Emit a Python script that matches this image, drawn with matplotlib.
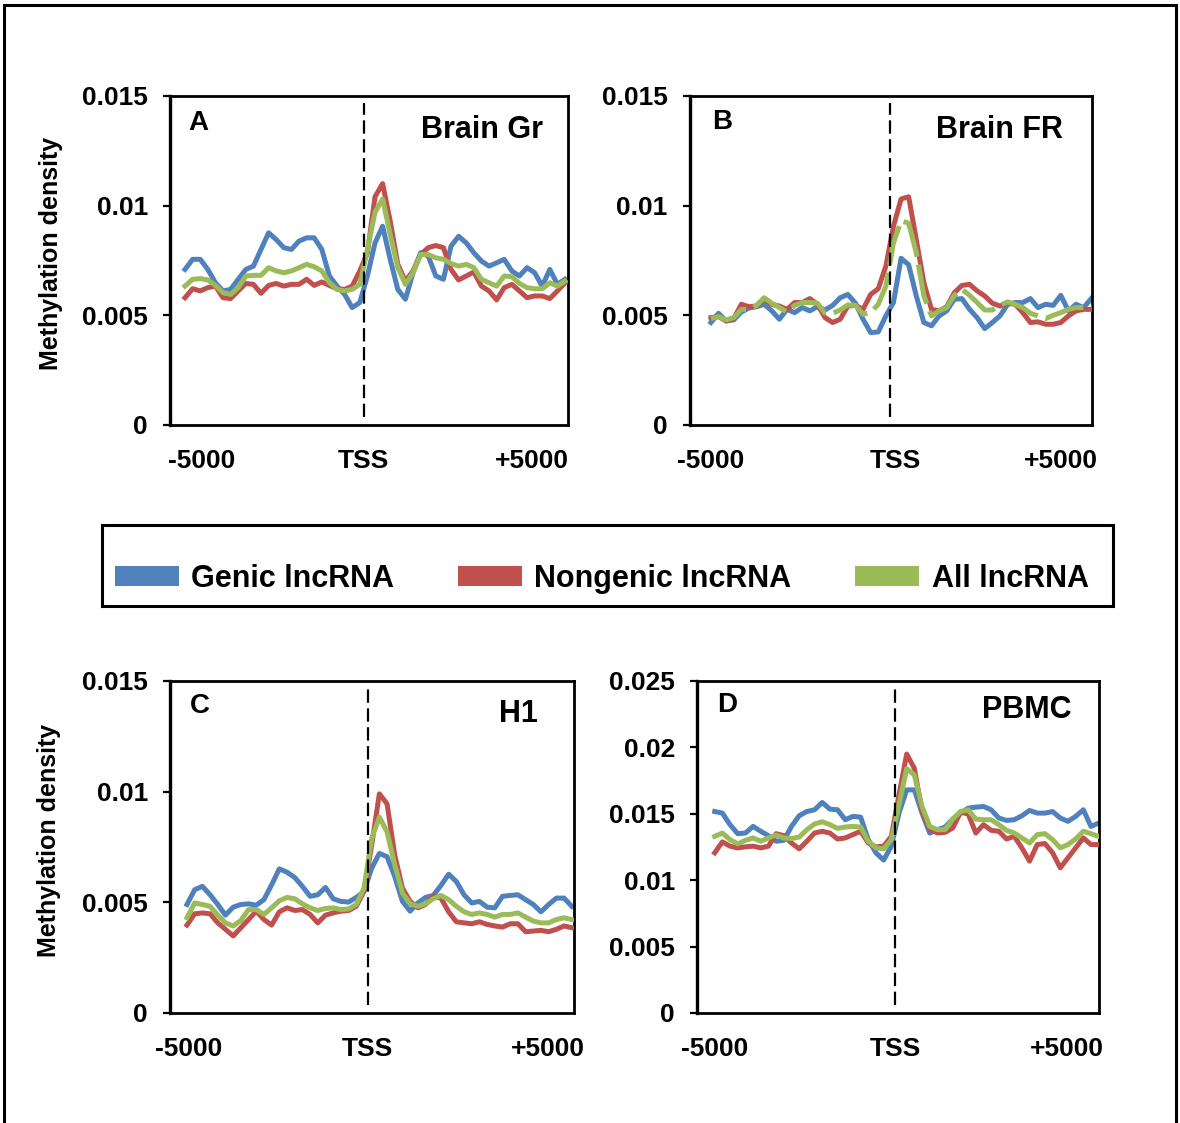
import numpy as np
import matplotlib
matplotlib.use("Agg")
import matplotlib.pyplot as plt
from matplotlib.patches import Patch, Rectangle
from matplotlib.ticker import FuncFormatter

plt.rcParams['font.family'] = ['Liberation Sans', 'DejaVu Sans']
plt.rcParams['font.weight'] = 'bold'
plt.rcParams['axes.labelweight'] = 'bold'

# ---- data (methylation density per bin, 51 bins across -5000..TSS..+5000) ----
series_names = ["Genic lncRNA", "Nongenic lncRNA", "All lncRNA"]
colors = ["#4F81BD", "#C0504D", "#9BBB59"]
x_labels = ["-5000", "TSS", "+5000"]
tss_bin = 23.5

brain_gr_genic = [0.00709, 0.00755, 0.00755, 0.00709, 0.00648, 0.00611, 0.00618, 0.00664, 0.00709, 0.00724,
                  0.0080, 0.00876, 0.00845, 0.00808, 0.0080, 0.00838, 0.00853, 0.00853, 0.0080, 0.00679,
                  0.00633, 0.00595, 0.00535, 0.00558, 0.00679, 0.0083, 0.00906, 0.00755, 0.00618, 0.00573,
                  0.00694, 0.00785, 0.0077, 0.00679, 0.00664, 0.00815, 0.0086, 0.0083, 0.00785, 0.00747,
                  0.00724, 0.00739, 0.00755, 0.00702, 0.00679, 0.00717, 0.00694, 0.00633, 0.00709, 0.00641,
                  0.00664]
brain_gr_nongenic = [0.0058, 0.00621, 0.00611, 0.00626, 0.00633, 0.0058, 0.00576, 0.00611, 0.00645, 0.00641,
                     0.0060, 0.00636, 0.00645, 0.00633, 0.00641, 0.00641, 0.00664, 0.00636, 0.00652, 0.00636,
                     0.00621, 0.00618, 0.00633, 0.00702, 0.00785, 0.0104, 0.0110, 0.00929, 0.00732, 0.00656,
                     0.00702, 0.00777, 0.00808, 0.00818, 0.00808, 0.00709, 0.00661, 0.00679, 0.00697, 0.00633,
                     0.00611, 0.0057, 0.00626, 0.00641, 0.00611, 0.0058, 0.00588, 0.00588, 0.00576, 0.00611,
                     0.00648]
brain_gr_all = [0.00633, 0.00664, 0.00667, 0.00661, 0.00636, 0.00603, 0.00595, 0.00626, 0.00679, 0.00682,
                0.00682, 0.00717, 0.00702, 0.00694, 0.00702, 0.00717, 0.00732, 0.00721, 0.00702, 0.00648,
                0.00618, 0.00611, 0.00618, 0.00641, 0.0080, 0.0097, 0.0103, 0.00868, 0.00717, 0.00641,
                0.00694, 0.00777, 0.00777, 0.00762, 0.00755, 0.00736, 0.00724, 0.00732, 0.00717, 0.00664,
                0.00648, 0.00633, 0.00679, 0.00676, 0.00645, 0.00626, 0.00621, 0.00621, 0.00648, 0.00633,
                0.00656]

brain_fr_genic = [0.00467, 0.00509, 0.00474, 0.00479, 0.00515, 0.00533, 0.00539, 0.0055, 0.0052, 0.00482,
                  0.00527, 0.00512, 0.00535, 0.0052, 0.00539, 0.00524, 0.00545, 0.0058, 0.00595, 0.00555,
                  0.00482, 0.00421, 0.00424, 0.00497, 0.00558, 0.0076, 0.0073, 0.00588, 0.00467, 0.00452,
                  0.00497, 0.0052, 0.00573, 0.00576, 0.00527, 0.00489, 0.00439, 0.00467, 0.00497, 0.0055,
                  0.00558, 0.00558, 0.00576, 0.00535, 0.0055, 0.00545, 0.00591, 0.0052, 0.0055, 0.00535,
                  0.00576]
brain_fr_nongenic = [0.00489, 0.00494, 0.00474, 0.00485, 0.0055, 0.00539, 0.00542, 0.00573, 0.0055, 0.00542,
                     0.00527, 0.00558, 0.00558, 0.00576, 0.0055, 0.00489, 0.00467, 0.00482, 0.00542, 0.00545,
                     0.00527, 0.00595, 0.00621, 0.00724, 0.00906, 0.0103, 0.0104, 0.00845, 0.00648, 0.00527,
                     0.0052, 0.00539, 0.00603, 0.00636, 0.00641, 0.00611, 0.00588, 0.00555, 0.00542, 0.00555,
                     0.0055, 0.00512, 0.00467, 0.0047, 0.00459, 0.00459, 0.00467, 0.00497, 0.0052, 0.00527,
                     0.00527]
brain_fr_all = [0.00485, 0.00494, 0.00479, 0.00489, 0.00527, 0.00527, 0.00545, 0.0058, 0.00555, 0.00535,
                0.00515, 0.00545, 0.00558, 0.00558, 0.00555, 0.00509, 0.00509, 0.00524, 0.00547, 0.00545,
                0.00505, 0.00512, 0.0055, 0.00633, 0.0083, 0.0093, 0.0092, 0.00785, 0.00588, 0.00497,
                0.0052, 0.00535, 0.00591, 0.00618, 0.00591, 0.00558, 0.00524, 0.00524, 0.00545, 0.00561,
                0.0055, 0.00535, 0.00509, 0.00497, 0.00485, 0.005, 0.00512, 0.00527, 0.00535, 0.00535,
                0.0055]

h1_genic = [0.0049, 0.00557, 0.00572, 0.00534, 0.0049, 0.00442, 0.00478, 0.0049, 0.00493, 0.00487,
            0.00512, 0.00579, 0.00651, 0.00636, 0.00612, 0.00572, 0.00527, 0.00534, 0.00567, 0.00516,
            0.00504, 0.00501, 0.00522, 0.00549, 0.00654, 0.00721, 0.00706, 0.00616, 0.00504, 0.0046,
            0.00497, 0.00522, 0.00531, 0.00576, 0.00627, 0.00594, 0.00534, 0.00497, 0.00504, 0.00478,
            0.00475, 0.00527, 0.00531, 0.00534, 0.00512, 0.0049, 0.00457, 0.0049, 0.00519, 0.00519,
            0.00482]
h1_nongenic = [0.00397, 0.00448, 0.00452, 0.00448, 0.00407, 0.00378, 0.00348, 0.00385, 0.00422, 0.0046,
               0.00422, 0.00397, 0.00457, 0.00475, 0.00463, 0.00467, 0.00445, 0.00407, 0.00442, 0.00452,
               0.0046, 0.00463, 0.00482, 0.00549, 0.00758, 0.0099, 0.00945, 0.00713, 0.00564, 0.00504,
               0.00475, 0.0049, 0.00527, 0.00519, 0.00457, 0.00412, 0.00407, 0.00403, 0.00412, 0.004,
               0.00393, 0.00388, 0.00403, 0.00403, 0.00367, 0.0037, 0.00373, 0.00367, 0.00378, 0.00393,
               0.00385]
h1_all = [0.0043, 0.00497, 0.0049, 0.00482, 0.00442, 0.00407, 0.00393, 0.00418, 0.00467, 0.00467,
          0.00445, 0.00475, 0.00507, 0.00522, 0.00516, 0.00493, 0.00475, 0.00463, 0.00472, 0.00475,
          0.00467, 0.0047, 0.0049, 0.00564, 0.00788, 0.00885, 0.00818, 0.00669, 0.00542, 0.00493,
          0.00482, 0.00493, 0.00516, 0.00531, 0.00512, 0.00482, 0.00457, 0.00445, 0.00452, 0.00445,
          0.00433, 0.00445, 0.00445, 0.00452, 0.00433, 0.00415, 0.00407, 0.00407, 0.00422, 0.0043,
          0.00422]

pbmc_genic = [0.01517, 0.01505, 0.01418, 0.0135, 0.01355, 0.01405, 0.01368, 0.01335, 0.01293, 0.0130,
              0.01405, 0.01485, 0.01517, 0.0153, 0.01585, 0.01535, 0.0153, 0.01455, 0.0148, 0.01475,
              0.01305, 0.01206, 0.01151, 0.01256, 0.01505, 0.0168, 0.0168, 0.01505, 0.01355, 0.0138,
              0.014, 0.0146, 0.01505, 0.01542, 0.0155, 0.01555, 0.0153, 0.01468, 0.0145, 0.01455,
              0.01485, 0.01525, 0.01505, 0.01505, 0.01517, 0.01468, 0.01443, 0.0148, 0.0153, 0.01405,
              0.0143]
pbmc_nongenic = [0.01206, 0.01288, 0.01256, 0.01243, 0.01251, 0.01256, 0.01243, 0.01256, 0.0135, 0.01335,
                 0.0128, 0.01236, 0.01293, 0.01355, 0.01368, 0.01355, 0.0131, 0.01318, 0.01343, 0.01368,
                 0.0128, 0.01251, 0.01256, 0.0133, 0.01642, 0.0195, 0.01842, 0.01517, 0.01385, 0.01355,
                 0.0136, 0.01393, 0.0151, 0.015, 0.01355, 0.01418, 0.01375, 0.01368, 0.0131, 0.0133,
                 0.01243, 0.01143, 0.01268, 0.01276, 0.01206, 0.01093, 0.01168, 0.01243, 0.01318, 0.01268,
                 0.01268]
pbmc_all = [0.0133, 0.01355, 0.01305, 0.01273, 0.013, 0.01318, 0.01293, 0.01318, 0.0134, 0.01318,
            0.01313, 0.01325, 0.0138, 0.01423, 0.0144, 0.01418, 0.0139, 0.014, 0.01405, 0.014,
            0.01293, 0.01243, 0.01236, 0.01305, 0.01567, 0.0184, 0.01792, 0.01555, 0.01405, 0.0138,
            0.0138, 0.0146, 0.01517, 0.0153, 0.0146, 0.01455, 0.01455, 0.01418, 0.01375, 0.01355,
            0.01318, 0.0128, 0.01343, 0.0135, 0.01305, 0.01243, 0.01268, 0.0131, 0.01368, 0.0135,
            0.0133]

# ---- layout ----
panels = [
    dict(letter="A", title="Brain Gr", data=[brain_gr_genic, brain_gr_nongenic, brain_gr_all],
         rect=[0.1441, 0.6216, 0.3373, 0.2930], xlim=(-1.97, 50.4), ticks=[2.25, 23.5, 45.6],
         ymax=0.015, ylabel=True, letter_xy=(0.045, 0.918), title_xy=(0.937, 0.895), green_dash=False),
    dict(letter="B", title="Brain FR", data=[brain_fr_genic, brain_fr_nongenic, brain_fr_all],
         rect=[0.5847, 0.6216, 0.3407, 0.2930], xlim=(-2.76, 50.1), ticks=[0.0, 24.3, 46.0],
         ymax=0.015, ylabel=False, letter_xy=(0.055, 0.922), title_xy=(0.928, 0.895), green_dash=True),
    dict(letter="C", title="H1", data=[h1_genic, h1_nongenic, h1_all],
         rect=[0.1441, 0.0980, 0.3424, 0.2956], xlim=(-2.2, 50.3), ticks=[0.25, 23.5, 46.9],
         ymax=0.015, ylabel=True, letter_xy=(0.05, 0.925), title_xy=(0.911, 0.902), green_dash=False),
    dict(letter="D", title="PBMC", data=[pbmc_genic, pbmc_nongenic, pbmc_all],
         rect=[0.5907, 0.0980, 0.3407, 0.2956], xlim=(-2.3, 50.05), ticks=[0.0, 23.5, 45.9],
         ymax=0.025, ylabel=False, letter_xy=(0.05, 0.927), title_xy=(0.933, 0.914), green_dash=False),
]

fig = plt.figure(figsize=(11.8, 11.23), dpi=100)

for p in panels:
    ax = fig.add_axes(p["rect"])
    x = np.arange(len(p["data"][0]))
    for i, (vals, c) in enumerate(zip(p["data"], colors)):
        kw = {}
        if i == 2 and p["green_dash"]:
            kw["dashes"] = (8, 1.6)
        ax.plot(x, vals, color=c, lw=3.6, solid_joinstyle='round', zorder=2 + i, **kw)
    ax.axvline(tss_bin, ymin=0.024, ymax=0.979, color='black', lw=1.6, dashes=(6, 2.5), zorder=10)

    ax.set_xlim(*p["xlim"])
    ax.set_ylim(0, p["ymax"])
    ax.set_yticks(np.arange(0, p["ymax"] + 1e-9, 0.005))
    ax.yaxis.set_major_formatter(FuncFormatter(lambda v, pos: "{:g}".format(round(v, 4))))
    ax.set_xticks(p["ticks"])
    ax.set_xticklabels(x_labels)
    ax.tick_params(axis='x', length=0, pad=17, labelsize=19)
    ax.tick_params(axis='y', length=5, width=1.6, pad=11, labelsize=19, direction='out')
    for s in ax.spines.values():
        s.set_linewidth(2.0)
    ax.spines['left'].set_linewidth(2.4)

    ax.text(p["letter_xy"][0], p["letter_xy"][1], p["letter"], transform=ax.transAxes,
            fontsize=20, ha='left', va='center')
    ax.text(p["title_xy"][0], p["title_xy"][1], p["title"], transform=ax.transAxes,
            fontsize=22, ha='right', va='center')

    if p["ylabel"]:
        ax.set_ylabel("Methylation density", fontsize=18, fontweight='bold')
        ax.yaxis.label.set_va('center')
        ax.yaxis.set_label_coords(-0.30, 0.52)

# legend
handles = [Patch(facecolor=c, edgecolor='none') for c in colors]
fig.legend(handles, series_names, loc='center', bbox_to_anchor=(0.510, 0.4845), ncol=3,
           frameon=False, fontsize=22, handlelength=2.1, handleheight=0.62,
           handletextpad=0.4, columnspacing=2.08)
fig.patches.append(Rectangle((0.0864, 0.4604), 0.857, 0.0721, transform=fig.transFigure,
                             fill=False, edgecolor='black', lw=2.2))

# outer frame
fig.patches.append(Rectangle((0.0034, -0.01), 0.9932, 1.0055, transform=fig.transFigure,
                             fill=False, edgecolor='black', lw=2.2))

fig.savefig("out.png", dpi=100)
